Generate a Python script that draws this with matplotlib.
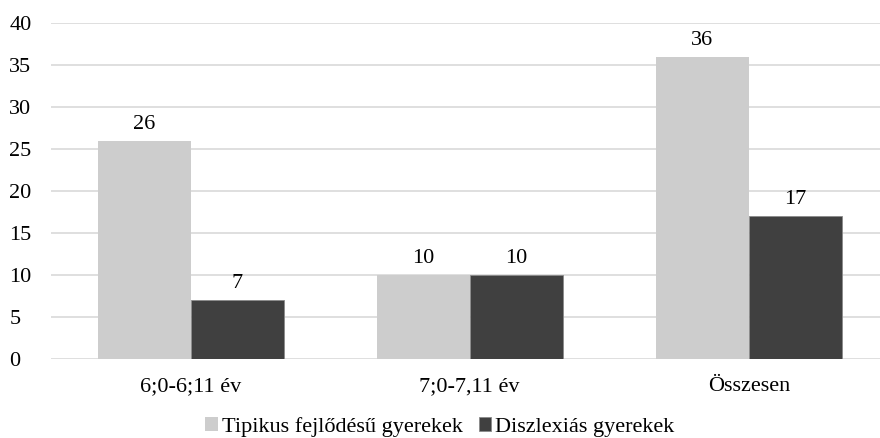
import numpy as np
import matplotlib.pyplot as plt

plt.rcParams['font.family'] = ['Liberation Serif', 'DejaVu Serif']

categories = ['6;0-6;11 év', '7;0-7,11 év', 'Összesen']
tipikus = [26, 10, 36]
diszlexias = [7, 10, 17]
series_names = ['Tipikus fejlődésű gyerekek', 'Diszlexiás gyerekek']

fig = plt.figure(figsize=(8.8, 4.38), dpi=100)
ax = fig.add_axes([51/880, 1 - 359/438, 829/880, 336/438])

x = np.arange(len(categories))
w = 0.333
b1 = ax.bar(x - w/2, tipikus, w, color='#cdcdcd', label=series_names[0], zorder=2)
b2 = ax.bar(x + w/2, diszlexias, w, color='#404040', edgecolor='#8a8a8a',
            linewidth=0.6, label=series_names[1], zorder=2)

for bars in (b1, b2):
    for r in bars:
        ax.annotate(f'{int(r.get_height())}', (r.get_x() + r.get_width()/2, r.get_height()),
                    xytext=(0, 5), textcoords='offset points', ha='center', va='bottom',
                    fontsize=16)

ax.set_ylim(0, 40)
ax.set_yticks(range(0, 41, 5))
ax.set_xlim(-0.5, 2.47)
ax.set_xticks(x)
ax.set_xticklabels(categories)
ax.tick_params(axis='both', length=0, labelsize=16)
ax.tick_params(axis='x', pad=13)
ax.tick_params(axis='y', pad=30)
for lab in ax.get_yticklabels():
    lab.set_horizontalalignment('left')
ax.yaxis.grid(True, color='#d9d9d9', linewidth=1.2, zorder=0)
ax.set_axisbelow(True)
for s in ax.spines.values():
    s.set_visible(False)

fig.legend(handles=[b1, b2], loc='center', bbox_to_anchor=(0.5, 1 - 427/438), ncol=2,
           frameon=False, prop={'family': 'Liberation Serif', 'size': 16},
           handlelength=0.55, handleheight=0.55, handletextpad=0.2, columnspacing=0.7)

fig.savefig('out.png', dpi=100)
